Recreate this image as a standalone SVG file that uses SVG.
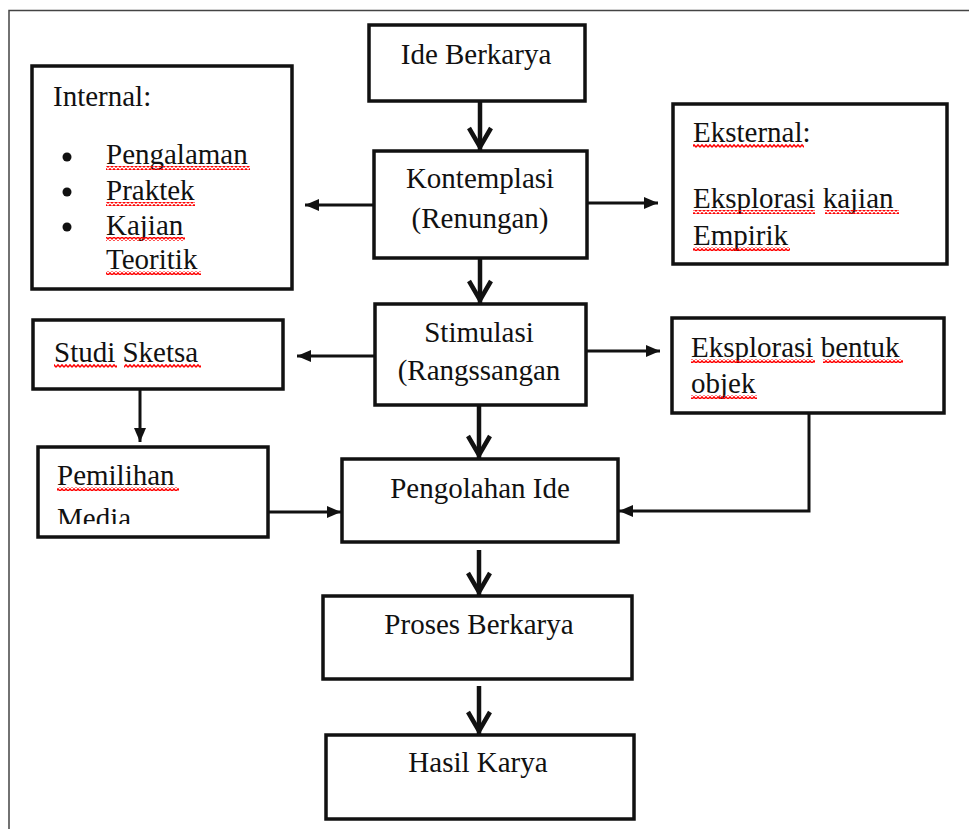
<svg xmlns="http://www.w3.org/2000/svg" width="969" height="829" viewBox="0 0 969 829">
<style>
.box{fill:#fff;stroke:#111;stroke-width:3.5}
.t{font-family:"Liberation Serif","Times New Roman",serif;font-size:29px;fill:#111}
.c{text-anchor:middle}
.thick{fill:none;stroke:#111;stroke-width:4.5}
.thin{fill:none;stroke:#111;stroke-width:3}
.wave{fill:url(#wave)}
</style>
<defs>
<pattern id="wave" patternUnits="userSpaceOnUse" width="4" height="4">
<path d="M0,3.2 L2,0.8 L4,3.2" fill="none" stroke="#f00" stroke-width="1.4"/>
</pattern>
<marker id="chev" markerUnits="userSpaceOnUse" viewBox="-26 -14 30 28" markerWidth="30" markerHeight="28" refX="0" refY="0" orient="auto">
<path d="M-23,-11 L-4,0 L-23,11" fill="none" stroke="#111" stroke-width="4.5"/>
</marker>
<marker id="tri" markerUnits="userSpaceOnUse" viewBox="-15 -7 16 14" markerWidth="16" markerHeight="14" refX="0" refY="0" orient="auto">
<path d="M-14,-6 L0,0 L-14,6 Z" fill="#111"/>
</marker>
<clipPath id="mediaClip"><rect x="40" y="500" width="226" height="24"/></clipPath>
</defs>
<rect width="969" height="829" fill="#fff"/>
<g id="frame" fill="none" stroke="#444" stroke-width="1.5">
<path d="M9,829 L9,10.5 L969,10.5"/>
</g>

<g id="connectors">
<path class="thick" d="M480,101 L480,151" marker-end="url(#chev)"/>
<path class="thick" d="M480,258 L480,304" marker-end="url(#chev)"/>
<path class="thick" d="M479,405 L479,459" marker-end="url(#chev)"/>
<path class="thick" d="M479,550 L479,596" marker-end="url(#chev)"/>
<path class="thick" d="M479,686 L479,735" marker-end="url(#chev)"/>
<path class="thin" d="M374,205 L305,205" marker-end="url(#tri)"/>
<path class="thin" d="M587,203 L658,203" marker-end="url(#tri)"/>
<path class="thin" d="M375,356 L297,356" marker-end="url(#tri)"/>
<path class="thin" d="M586,351 L660,351" marker-end="url(#tri)"/>
<path class="thin" d="M140,389 L140,442" marker-end="url(#tri)"/>
<path class="thin" d="M268,512 L341,512" marker-end="url(#tri)"/>
<path class="thin" d="M809,413 L809,511 L619,511" marker-end="url(#tri)"/>
</g>

<g id="ide-berkarya">
<rect class="box" x="369" y="25" width="216" height="76"/>
<text class="t c" x="476" y="64">Ide Berkarya</text>
</g>

<g id="kontemplasi">
<rect class="box" x="374" y="151" width="213" height="107"/>
<text class="t c" x="480" y="188">Kontemplasi</text>
<text class="t c" x="480" y="228">(Renungan)</text>
</g>

<g id="internal">
<rect class="box" x="32" y="66" width="260" height="223"/>
<text class="t" x="53" y="106">Internal:</text>
<circle cx="67" cy="157" r="4.5" fill="#111"/>
<circle cx="67" cy="192" r="4.5" fill="#111"/>
<circle cx="67" cy="227" r="4.5" fill="#111"/>
<text class="t" x="106" y="164">Pengalaman</text>
<text class="t" x="106" y="200">Praktek</text>
<text class="t" x="106" y="235">Kajian</text>
<text class="t" x="106" y="269">Teoritik</text>
<rect class="wave" x="106" y="166" width="144" height="4"/>
<rect class="wave" x="106" y="202" width="89" height="4"/>
<rect class="wave" x="106" y="237" width="79" height="4"/>
<rect class="wave" x="106" y="271" width="95" height="4"/>
</g>

<g id="eksternal">
<rect class="box" x="673" y="104" width="274" height="160"/>
<text class="t" x="693" y="142">Eksternal:</text>
<text class="t" x="693" y="208">Eksplorasi kajian</text>
<text class="t" x="693" y="245">Empirik</text>
<rect class="wave" x="693" y="144" width="111" height="4"/>
<rect class="wave" x="693" y="210" width="122" height="4"/>
<rect class="wave" x="825" y="210" width="74" height="4"/>
<rect class="wave" x="693" y="247" width="97" height="4"/>
</g>

<g id="stimulasi">
<rect class="box" x="375" y="304" width="211" height="101"/>
<text class="t c" x="479" y="342">Stimulasi</text>
<text class="t c" x="479" y="380">(Rangssangan</text>
</g>

<g id="studi-sketsa">
<rect class="box" x="33" y="320" width="250" height="69"/>
<text class="t" x="54" y="362">Studi Sketsa</text>
<rect class="wave" x="54" y="364" width="63" height="4"/>
<rect class="wave" x="124" y="364" width="77" height="4"/>
</g>

<g id="eksplorasi-bentuk">
<rect class="box" x="672" y="318" width="272" height="95"/>
<text class="t" x="691" y="357">Eksplorasi bentuk</text>
<text class="t" x="691" y="393">objek</text>
<rect class="wave" x="691" y="359" width="124" height="4"/>
<rect class="wave" x="823" y="359" width="80" height="4"/>
<rect class="wave" x="691" y="395" width="66" height="4"/>
</g>

<g id="pemilihan-media">
<rect class="box" x="38" y="447" width="230" height="90"/>
<text class="t" x="57" y="485">Pemilihan</text>
<rect class="wave" x="57" y="487" width="122" height="4"/>
<text class="t" x="57" y="528" clip-path="url(#mediaClip)">Media</text>
</g>

<g id="pengolahan-ide">
<rect class="box" x="342" y="459" width="276" height="83"/>
<text class="t c" x="480" y="498">Pengolahan Ide</text>
</g>

<g id="proses-berkarya">
<rect class="box" x="323" y="596" width="309" height="83"/>
<text class="t c" x="479" y="634">Proses Berkarya</text>
</g>

<g id="hasil-karya">
<rect class="box" x="326" y="735" width="308" height="84"/>
<text class="t c" x="478" y="772">Hasil Karya</text>
</g>
</svg>
